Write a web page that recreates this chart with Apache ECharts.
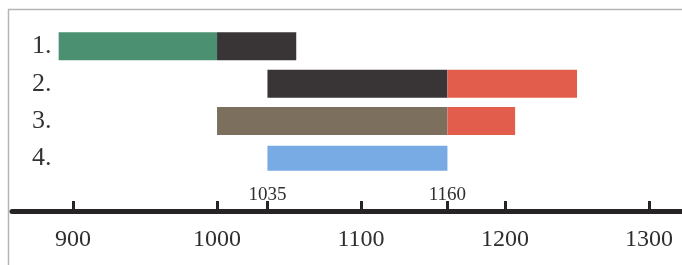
<!DOCTYPE html>
<html>
<head>
<meta charset="utf-8">
<script src="https://cdn.jsdelivr.net/npm/echarts@6/dist/echarts.min.js"></script>
<style>
html,body{margin:0;padding:0;background:#ffffff;}
#c{width:682px;height:265px;}
</style>
</head>
<body>
<div id="c"></div>
<script>
// ---- data ----
var rowLabels = ['1.', '2.', '3.', '4.'];
var rowValues = [1, 2, 3, 4];
var segRow   = [1, 1, 2, 2, 3, 3, 4];
var segStart = [890, 1000, 1035, 1160, 1000, 1160, 1035];
var segEnd   = [1000, 1055, 1160, 1250, 1160, 1207, 1160];
var segKind  = ['green', 'black', 'black', 'red', 'brown', 'red', 'blue'];
var axisTicks = [900, 1000, 1100, 1200, 1300];
var markedYears = [1035, 1160];

// ---- styles ----
var kindColor = {
  green: '#4b9070',
  black: '#393536',
  red: '#e25d4c',
  brown: '#7c6f5d',
  blue: '#78aae3'
};

var X_MIN = 857.6, X_MAX = 1322.9, Y_MAX = 5.41;

var data = segRow.map(function (r, i) {
  return [segStart[i], segEnd[i], r, segKind[i]];
});
var tickValues = axisTicks.concat(markedYears).sort(function (a, b) { return a - b; });

var chart = echarts.init(document.getElementById('c'), null, {renderer: 'canvas'});
var serif = '"Liberation Serif", "DejaVu Serif", serif';

chart.setOption({
  animation: false,
  backgroundColor: '#ffffff',
  grid: {left: 12, right: 0, top: 9, bottom: 54, containLabel: false},
  xAxis: {
    type: 'value',
    min: X_MIN,
    max: X_MAX,
    position: 'bottom',
    splitLine: {show: false},
    axisLine: {show: true, onZero: false, lineStyle: {color: '#262424', width: 5}},
    axisTick: {show: true, inside: true, length: 10, customValues: tickValues,
      lineStyle: {color: '#262424', width: 3}},
    axisLabel: {show: true, customValues: axisTicks, margin: 17,
      formatter: function (v) { return String(v); },
      fontFamily: serif, fontSize: 24, color: '#2e2e2e'}
  },
  yAxis: {
    type: 'value',
    inverse: true,
    min: 0,
    max: Y_MAX,
    axisLine: {show: false},
    axisTick: {show: false},
    splitLine: {show: false},
    axisLabel: {
      show: true, inside: true, margin: 20,
      customValues: rowValues,
      formatter: function (v) { return rowLabels[rowValues.indexOf(v)]; },
      fontFamily: serif, fontSize: 26, color: '#333333'
    }
  },
  graphic: [
    {type: 'line', shape: {x1: 8, y1: 9.5, x2: 682, y2: 9.5}, style: {stroke: '#b5b5b5', lineWidth: 1.5}, z: 0},
    {type: 'line', shape: {x1: 8.5, y1: 9, x2: 8.5, y2: 265}, style: {stroke: '#b5b5b5', lineWidth: 1.5}, z: 0}
  ],
  series: [{
    type: 'custom',
    data: data,
    renderItem: function (params, api) {
      var s = api.coord([api.value(0), api.value(2)]);
      var e = api.coord([api.value(1), api.value(2)]);
      var kind = data[params.dataIndex][3];
      var h = kind === 'blue' ? 25 : 28;
      return {
        type: 'rect',
        shape: {x: s[0], y: s[1] - h / 2, width: e[0] - s[0], height: h},
        style: {fill: kindColor[kind]}
      };
    }
  }, {
    type: 'custom',
    data: markedYears.map(function (y) { return [y]; }),
    renderItem: function (params, api) {
      var p = api.coord([api.value(0), Y_MAX]);
      return {
        type: 'text',
        x: p[0],
        y: p[1] - 6,
        style: {text: String(api.value(0)), fontFamily: serif, fontSize: 19,
          fill: '#2e2e2e', align: 'center', verticalAlign: 'bottom'}
      };
    }
  }]
});
</script>
</body>
</html>
